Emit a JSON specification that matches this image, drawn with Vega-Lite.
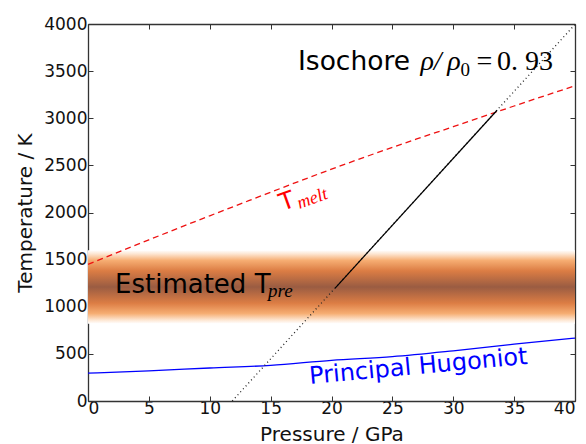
{
  "$schema": "https://vega.github.io/schema/vega-lite/v6.json",
  "width": 487,
  "height": 377,
  "autosize": {"type": "none"},
  "padding": {"left": 88, "top": 24, "right": 11, "bottom": 43},
  "background": "white",
  "config": {
    "view": {"stroke": null},
    "axis": {
      "grid": false,
      "domainColor": "#333333",
      "tickColor": "#333333",
      "domainWidth": 1.3,
      "tickWidth": 1,
      "tickSize": -5,
      "labelFont": "DejaVu Sans",
      "labelFontSize": 17,
      "labelColor": "#111111",
      "labelPadding": 4,
      "titleFont": "DejaVu Sans",
      "titleFontSize": 20,
      "titleFontWeight": "normal",
      "titleColor": "#111111"
    }
  },
  "datasets": {
    "band": [{"p0": 0, "p1": 40, "t0": 820, "t1": 1600}],
    "melt": [
      {"p": 0, "T": 1450}, {"p": 5, "T": 1710}, {"p": 10, "T": 1965},
      {"p": 13.2, "T": 2125}, {"p": 20, "T": 2460}, {"p": 27, "T": 2780},
      {"p": 30, "T": 2910}, {"p": 35, "T": 3130}, {"p": 40, "T": 3345}
    ],
    "isoDotted": [{"p": 11.85, "T": 0}, {"p": 40, "T": 3995}],
    "isoSolid": [{"p": 20.3, "T": 1198}, {"p": 33.6, "T": 3085}],
    "hugoniot": [
      {"p": 0, "T": 295}, {"p": 5, "T": 320}, {"p": 10, "T": 350},
      {"p": 15, "T": 378}, {"p": 20, "T": 432}, {"p": 25, "T": 470},
      {"p": 30, "T": 532}, {"p": 35, "T": 603}, {"p": 40, "T": 667}
    ]
  },
  "layer": [
    {
      "data": {"name": "band"},
      "mark": {
        "type": "rect",
        "color": {
          "gradient": "linear", "x1": 0, "y1": 0, "x2": 0, "y2": 1,
          "stops": [
            {"offset": 0, "color": "#ffffff"},
            {"offset": 0.05, "color": "#fde6d2"},
            {"offset": 0.14, "color": "#f6ad72"},
            {"offset": 0.28, "color": "#dc7d44"},
            {"offset": 0.5, "color": "#9a5c42"},
            {"offset": 0.72, "color": "#dc7d44"},
            {"offset": 0.86, "color": "#f6ad72"},
            {"offset": 0.95, "color": "#fde6d2"},
            {"offset": 1, "color": "#ffffff"}
          ]
        }
      },
      "encoding": {
        "x": {"field": "p0", "type": "quantitative", "scale": {"domain": [0, 40], "nice": false},
              "axis": {"orient": "bottom", "values": [0, 5, 10, 15, 20, 25, 30, 35, 40], "format": "d", "title": "Pressure / GPa", "titlePadding": 8, "labelPadding": 4}},
        "x2": {"field": "p1"},
        "y": {"field": "t0", "type": "quantitative", "scale": {"domain": [0, 4000], "nice": false},
              "axis": {"orient": "left", "values": [0, 500, 1000, 1500, 2000, 2500, 3000, 3500, 4000], "format": "d", "title": "Temperature / K", "titlePadding": 8, "labelPadding": 6}},
        "y2": {"field": "t1"}
      }
    },
    {
      "data": {"name": "hugoniot"},
      "mark": {"type": "line", "color": "#0000ff", "strokeWidth": 1.3, "interpolate": "monotone"},
      "encoding": {
        "x": {"field": "p", "type": "quantitative", "axis": {"orient": "top", "labels": false, "title": null, "values": [0, 5, 10, 15, 20, 25, 30, 35, 40]}},
        "y": {"field": "T", "type": "quantitative", "axis": {"orient": "right", "labels": false, "title": null, "values": [0, 500, 1000, 1500, 2000, 2500, 3000, 3500, 4000]}}
      }
    },
    {
      "data": {"name": "melt"},
      "mark": {"type": "line", "color": "#ee1111", "strokeWidth": 1.3, "strokeDash": [6, 4], "interpolate": "monotone"},
      "encoding": {
        "x": {"field": "p", "type": "quantitative", "axis": null},
        "y": {"field": "T", "type": "quantitative", "axis": null}
      }
    },
    {
      "data": {"name": "isoDotted"},
      "mark": {"type": "line", "color": "#222222", "strokeWidth": 1.3, "strokeDash": [1, 3]},
      "encoding": {
        "x": {"field": "p", "type": "quantitative", "axis": null},
        "y": {"field": "T", "type": "quantitative", "axis": null}
      }
    },
    {
      "data": {"name": "isoSolid"},
      "mark": {"type": "line", "color": "#000000", "strokeWidth": 1.2},
      "encoding": {
        "x": {"field": "p", "type": "quantitative", "axis": null},
        "y": {"field": "T", "type": "quantitative", "axis": null}
      }
    },
    {
      "data": {"values": [
        {"p": 17.25, "T": 3512, "label": "Isochore"}
      ]},
      "mark": {"type": "text", "align": "left", "baseline": "alphabetic", "color": "#000000", "font": "DejaVu Sans", "fontSize": 26.5},
      "encoding": {
        "x": {"field": "p", "type": "quantitative", "axis": null},
        "y": {"field": "T", "type": "quantitative", "axis": null},
        "text": {"field": "label"}
      }
    },
    {
      "data": {"values": [
        {"p": 2.22, "T": 1146, "label": "Estimated T"}
      ]},
      "mark": {"type": "text", "align": "left", "baseline": "alphabetic", "color": "#000000", "font": "DejaVu Sans", "fontSize": 26},
      "encoding": {
        "x": {"field": "p", "type": "quantitative", "axis": null},
        "y": {"field": "T", "type": "quantitative", "axis": null},
        "text": {"field": "label"}
      }
    },
    {
      "data": {"values": [
        {"p": 27.3, "T": 3512, "label": "ρ/"},
        {"p": 29.5, "T": 3512, "label": "ρ"}
      ]},
      "mark": {"type": "text", "align": "left", "baseline": "alphabetic", "color": "#000000", "font": "Liberation Serif", "fontStyle": "italic", "fontSize": 28},
      "encoding": {
        "x": {"field": "p", "type": "quantitative", "axis": null},
        "y": {"field": "T", "type": "quantitative", "axis": null},
        "text": {"field": "label"}
      }
    },
    {
      "data": {"values": [
        {"p": 30.6, "T": 3450, "label": "0"}
      ]},
      "mark": {"type": "text", "align": "left", "baseline": "alphabetic", "color": "#000000", "font": "Liberation Serif", "fontSize": 19},
      "encoding": {
        "x": {"field": "p", "type": "quantitative", "axis": null},
        "y": {"field": "T", "type": "quantitative", "axis": null},
        "text": {"field": "label"}
      }
    },
    {
      "data": {"values": [
        {"p": 31.9, "T": 3512, "label": "="},
        {"p": 33.6, "T": 3512, "label": "0. 93"}
      ]},
      "mark": {"type": "text", "align": "left", "baseline": "alphabetic", "color": "#000000", "font": "Liberation Serif", "fontSize": 28},
      "encoding": {
        "x": {"field": "p", "type": "quantitative", "axis": null},
        "y": {"field": "T", "type": "quantitative", "axis": null},
        "text": {"field": "label"}
      }
    },
    {
      "data": {"values": [
        {"p": 14.78, "T": 1103, "label": "pre"}
      ]},
      "mark": {"type": "text", "align": "left", "baseline": "alphabetic", "color": "#000000", "font": "Liberation Serif", "fontStyle": "italic", "fontSize": 19},
      "encoding": {
        "x": {"field": "p", "type": "quantitative", "axis": null},
        "y": {"field": "T", "type": "quantitative", "axis": null},
        "text": {"field": "label"}
      }
    },
    {
      "data": {"values": [
        {"p": 16.0, "T": 2016, "label": "T"}
      ]},
      "mark": {"type": "text", "align": "left", "baseline": "alphabetic", "color": "#ff0000", "font": "DejaVu Sans", "fontSize": 24, "angle": 340},
      "encoding": {
        "x": {"field": "p", "type": "quantitative", "axis": null},
        "y": {"field": "T", "type": "quantitative", "axis": null},
        "text": {"field": "label"}
      }
    },
    {
      "data": {"values": [
        {"p": 17.37, "T": 2037, "label": "melt"}
      ]},
      "mark": {"type": "text", "align": "left", "baseline": "alphabetic", "color": "#ff0000", "font": "Liberation Serif", "fontStyle": "italic", "fontSize": 18, "angle": 340},
      "encoding": {
        "x": {"field": "p", "type": "quantitative", "axis": null},
        "y": {"field": "T", "type": "quantitative", "axis": null},
        "text": {"field": "label"}
      }
    },
    {
      "data": {"values": [
        {"p": 18.23, "T": 180, "label": "Principal Hugoniot"}
      ]},
      "mark": {"type": "text", "align": "left", "baseline": "alphabetic", "color": "#0000ff", "font": "DejaVu Sans", "fontSize": 24, "angle": 354.7},
      "encoding": {
        "x": {"field": "p", "type": "quantitative", "axis": null},
        "y": {"field": "T", "type": "quantitative", "axis": null},
        "text": {"field": "label"}
      }
    }
  ]
}
